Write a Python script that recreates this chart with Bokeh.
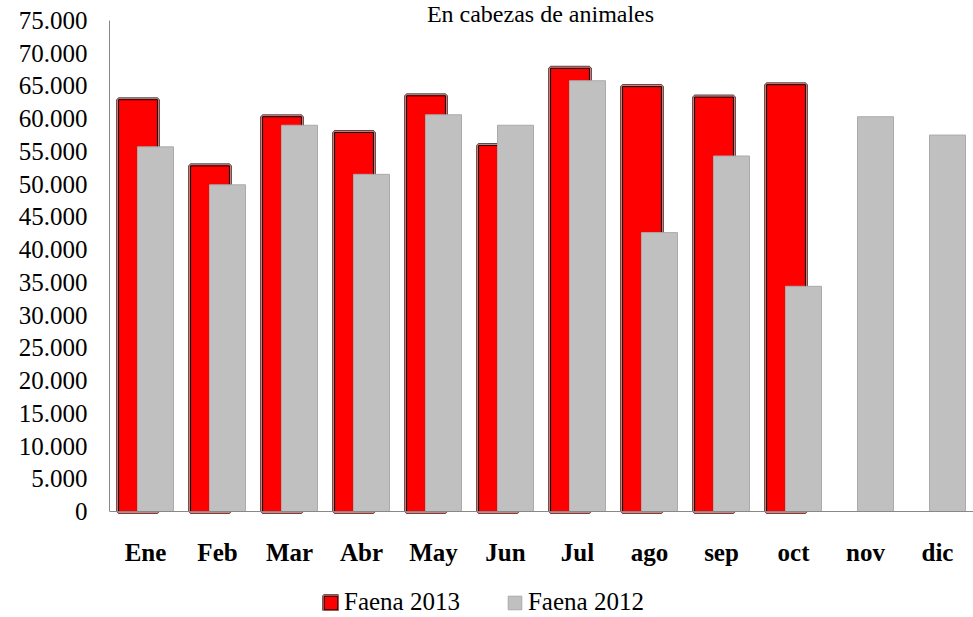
from bokeh.plotting import figure
from bokeh.models import ColumnDataSource, Range1d, FixedTicker, Legend, LegendItem, Label
from bokeh.transform import dodge
from bokeh.embed import file_html
from bokeh.resources import INLINE

months = ["Ene", "Feb", "Mar", "Abr", "May", "Jun", "Jul", "ago", "sep", "oct", "nov", "dic"]
faena_2013 = [62900, 52800, 60300, 57900, 63500, 55900, 67700, 64900, 63300, 65200, None, None]
faena_2012 = [55700, 49900, 59000, 51500, 60600, 59000, 65800, 42600, 54300, 34400, 60300, 57500]
y_ticks = list(range(0, 75001, 5000))
y_tick_labels = ["0", "5.000", "10.000", "15.000", "20.000", "25.000", "30.000", "35.000",
                 "40.000", "45.000", "50.000", "55.000", "60.000", "65.000", "70.000", "75.000"]
title_text = "En cabezas de animales"

idx = [i + 0.5 for i in range(len(months))]
src13 = ColumnDataSource(dict(x=[idx[i] for i in range(len(months)) if faena_2013[i] is not None],
                              y=[v for v in faena_2013 if v is not None]))
src12 = ColumnDataSource(dict(x=idx, y=faena_2012))

SERIF = "Liberation Serif"
PX = 491 / 75000  # pixels per unit on the y scale

p = figure(width=973, height=617, output_backend="svg", toolbar_location=None,
           x_range=Range1d(0, 12), y_range=Range1d(-106 / PX, 511 / PX),
           min_border_left=109, min_border_right=0, min_border_top=0, min_border_bottom=0)
p.outline_line_color = None
p.xgrid.grid_line_color = None
p.ygrid.grid_line_color = None
p.background_fill_color = "white"
p.border_fill_color = "white"

# red bars with layered border
r1 = p.vbar(x=dodge("x", -0.104, range=p.x_range), top="y", width=0.54, bottom=0, source=src13,
            fill_color="red", line_color="#505050", line_width=5)
r2 = p.vbar(x=dodge("x", -0.104, range=p.x_range), top="y", width=0.54, bottom=0, source=src13,
            fill_color="red", line_color="#e87878", line_width=3)
r3 = p.vbar(x=dodge("x", -0.104, range=p.x_range), top="y", width=0.54, bottom=0, source=src13,
            fill_color="red", line_color="black", line_width=1)
g = p.vbar(x=dodge("x", 0.139, range=p.x_range), top="y", width=0.5, bottom=0, source=src12,
           fill_color="#c0c0c0", line_color="#aaaaaa", line_width=1)

# axes
xa = p.xaxis[0]
xa.fixed_location = 0
xa.ticker = FixedTicker(ticks=idx)
xa.major_label_overrides = {x: m for x, m in zip(idx, months)}
xa.major_label_text_font = SERIF
xa.major_label_text_font_style = "bold"
xa.major_label_text_font_size = "25px"
xa.major_label_text_color = "black"
xa.major_label_standoff = 27
xa.major_tick_out = 0
xa.major_tick_in = 0
xa.minor_tick_out = 0
xa.minor_tick_in = 0
xa.axis_line_color = "#888888"

ya = p.yaxis[0]
ya.bounds = (0, 75000)
ya.ticker = FixedTicker(ticks=y_ticks)
ya.major_label_overrides = {t: l for t, l in zip(y_ticks, y_tick_labels)}
ya.major_label_text_font = SERIF
ya.major_label_text_font_size = "25px"
ya.major_label_text_color = "black"
ya.major_label_standoff = 22
ya.major_tick_out = 0
ya.major_tick_in = 0
ya.minor_tick_out = 0
ya.minor_tick_in = 0
ya.axis_line_color = "#888888"

title = Label(x=(540 - 109) / 72, y=511 / PX, y_offset=0, text=title_text, text_align="center",
              text_baseline="top", text_font=SERIF, text_font_size="24px", text_color="black")
p.add_layout(title)

legend = Legend(items=[LegendItem(label="Faena 2013", renderers=[r1, r2, r3]),
                       LegendItem(label="Faena 2012", renderers=[g])],
                orientation="horizontal", location=(213, 1),
                label_text_font=SERIF, label_text_font_size="25px", label_text_color="black",
                glyph_width=17, glyph_height=17, spacing=46, padding=0, margin=0,
                label_standoff=5, border_line_color=None, background_fill_alpha=0)
p.add_layout(legend)

open("out.html", "w").write(file_html(p, INLINE))
